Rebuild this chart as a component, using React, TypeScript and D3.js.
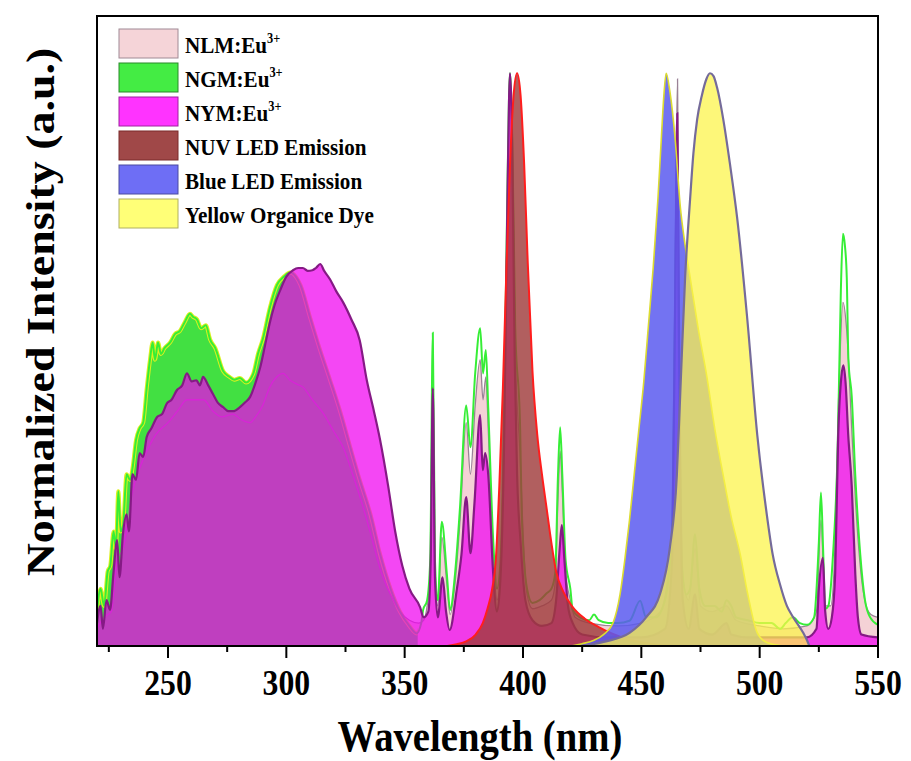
import React from 'react';
import * as d3 from 'd3';

type P = [number, number];

// wavelength (nm), normalized intensity
const NGM: P[] = [
  [220,0.06],[221.5,0.1],[223,0.07],[224.5,0.13],[225.6,0.14],[227,0.2],[228,0.17],[229,0.27],[230,0.2],[231,0.21],
  [232.5,0.3],[234,0.29],[235,0.31],[236.5,0.36],[238,0.38],[239.5,0.39],[241,0.45],[242.4,0.5],[243.5,0.53],[244.5,0.5],
  [245.8,0.53],[247,0.51],[248.5,0.52],[250.9,0.53],[253,0.545],[255,0.55],[257,0.565],[259.3,0.58],[260.5,0.575],[262.3,0.57],
  [264,0.555],[266,0.56],[267.8,0.535],[270,0.52],[273.3,0.48],[276,0.47],[278,0.465],[280.4,0.468],[283,0.46],[286,0.475],
  [288,0.51],[290,0.535],[293,0.59],[296,0.63],[299,0.645],[301.6,0.652],[304,0.645],[306,0.63],[310,0.574],[314,0.52],
  [318.5,0.464],[322.7,0.41],[327,0.347],[331,0.29],[335.4,0.232],[339.6,0.16],[344,0.1],[348,0.06],[352,0.035],[355,0.022],
  [357,0.04],[357.8,0.063],[359.5,0.08],[360.8,0.15],[361.9,0.547],[362.8,0.15],[364,0.08],[365.7,0.217],[367.8,0.127],[369.2,0.063],[371.3,0.127],
  [373.4,0.243],[376,0.42],[377.8,0.347],[379.8,0.476],[381.9,0.555],[383.1,0.476],[384.3,0.517],[385.3,0.417],[387.4,0.185],[389,0.1],
  [390.5,0.15],[392,0.4],[393.5,0.82],[394.5,1.0],[395.5,0.88],[396.7,0.56],[398.8,0.38],[399.5,0.225],[401.7,0.1],[404,0.075],
  [407,0.08],[410,0.092],[412,0.1],[413.6,0.127],[414.8,0.3],[415.7,0.382],[416.6,0.3],[418,0.15],[420,0.1],[421,0.063],
  [424,0.05],[428,0.045],[430,0.055],[432,0.045],[436,0.04],[440,0.04],[445,0.044],[449.5,0.079],[452,0.05],[456,0.05],
  [460,0.08],[463,0.2],[464.3,0.6],[465,0.8],[465.8,0.5],[467,0.15],[469,0.09],[470.6,0.1],[472.7,0.195],[474.5,0.1],
  [477,0.07],[481,0.07],[484,0.06],[486,0.08],[488,0.07],[490,0.05],[495,0.045],[500,0.04],[505,0.04],[508.7,0.03],
  [511,0.04],[514,0.05],[517,0.04],[520,0.037],[523,0.05],[525,0.18],[525.9,0.268],[526.8,0.17],[527.7,0.065],[529,0.07],
  [531,0.16],[533,0.35],[534.3,0.62],[535.2,0.72],[536,0.7],[536.8,0.644],[537.5,0.5],[538.9,0.436],[540.4,0.298],[542.5,0.16],
  [544.5,0.08],[546.7,0.05],[550,0.037],
];

const NYM: P[] = [
  [220,0.04],[221.5,0.07],[222.5,0.03],[224,0.08],[225.5,0.063],[227,0.13],[228.5,0.185],[229.5,0.12],[231,0.197],[232.5,0.23],
  [233.5,0.2],[235,0.3],[236.5,0.29],[238,0.337],[239.5,0.33],[241,0.365],[243,0.38],[245.4,0.4],[247.5,0.405],[249.6,0.424],
  [251.5,0.43],[253.8,0.447],[256,0.455],[258,0.476],[260,0.462],[262,0.464],[263.5,0.455],[264.8,0.47],[267,0.455],[269,0.44],
  [271,0.425],[273.3,0.417],[275.5,0.41],[277.5,0.41],[280.4,0.417],[282.5,0.425],[284.7,0.435],[287,0.46],[289,0.487],[291,0.525],
  [293,0.564],[295,0.595],[297.3,0.62],[300,0.645],[302.8,0.656],[305,0.66],[307,0.66],[309,0.655],[311,0.656],[312.5,0.66],
  [314.3,0.667],[316,0.655],[318.5,0.64],[321,0.62],[324,0.6],[327.5,0.57],[331,0.534],[334,0.464],[337,0.41],[339.6,0.36],
  [343,0.28],[346,0.2],[349,0.14],[352,0.1],[356.5,0.068],[358,0.05],[360,0.06],[361,0.15],[361.9,0.45],[362.8,0.12],
  [364,0.05],[366,0.12],[367.5,0.06],[369,0.028],[372,0.098],[374,0.16],[376,0.26],[377.8,0.162],[379.5,0.25],[381.9,0.403],
  [383,0.307],[384,0.337],[385.3,0.3],[387.4,0.127],[389,0.06],[390.5,0.12],[392,0.35],[393.5,0.8],[394.5,1.0],[395.5,0.85],
  [396.5,0.5],[397.5,0.3],[399,0.18],[401,0.08],[404,0.045],[408,0.035],[412,0.04],[414,0.08],[415.5,0.17],[416.4,0.211],
  [417.5,0.15],[419,0.07],[421,0.04],[425,0.02],[435,0.015],[450,0.015],[460,0.03],[463,0.15],[464.5,0.7],[465.2,0.93],
  [466,0.5],[467.5,0.08],[470,0.03],[472.7,0.09],[474.5,0.03],[480,0.02],[486,0.04],[488,0.02],[495,0.015],[510,0.015],
  [520,0.015],[524,0.03],[525,0.1],[526.7,0.154],[527.7,0.06],[529,0.03],[530.5,0.05],[531.9,0.126],[533.2,0.37],[534.5,0.47],
  [535.4,0.49],[536.3,0.46],[537.4,0.37],[538.9,0.28],[540.4,0.126],[541.5,0.05],[543,0.02],[550,0.015],
];

const NLM: P[] = [
  [220,0.03],[223,0.05],[226,0.06],[228.5,0.15],[231,0.17],[235,0.27],[238,0.31],[241,0.34],[245,0.37],[250,0.39],
  [254,0.41],[258,0.43],[262,0.43],[265,0.43],[269,0.41],[273,0.4],[277.5,0.405],[281,0.395],[284.7,0.39],[287,0.4],
  [290,0.42],[293,0.452],[296,0.47],[298.6,0.476],[301.6,0.464],[304,0.458],[307,0.452],[311,0.43],[315.5,0.407],[320,0.375],
  [324,0.347],[328,0.3],[332.4,0.243],[336,0.19],[340,0.13],[344,0.09],[348,0.06],[352,0.045],[356,0.04],[358,0.045],
  [359.5,0.07],[360.8,0.13],[361.9,0.5],[362.8,0.13],[364,0.07],[365.7,0.19],[367.8,0.11],[369.2,0.055],[371.3,0.11],[373.4,0.22],
  [376,0.39],[377.8,0.3],[379.8,0.42],[381.9,0.5],[383.1,0.43],[384.3,0.47],[385.3,0.38],[387.4,0.16],[389,0.08],[390.5,0.13],
  [392,0.38],[393.5,0.8],[394.5,0.98],[395.5,0.86],[396.7,0.52],[398.8,0.33],[400,0.2],[401.7,0.09],[404,0.065],[408,0.07],
  [412,0.08],[413.6,0.11],[414.8,0.26],[415.7,0.34],[416.6,0.27],[418,0.13],[420,0.08],[422,0.05],[428,0.04],[440,0.035],
  [450,0.04],[458,0.06],[463,0.2],[464.5,0.75],[465.3,0.99],[466,0.55],[467.5,0.12],[470,0.08],[472.7,0.17],[475,0.07],
  [480,0.06],[486,0.07],[490,0.045],[500,0.035],[510,0.03],[520,0.035],[524,0.06],[525.9,0.22],[527.7,0.07],[530,0.07],
  [531.5,0.14],[533.5,0.45],[535.2,0.6],[536.8,0.55],[538.9,0.38],[540.4,0.26],[542.5,0.14],[545,0.07],[547,0.055],[550,0.05],
];

const NUV: P[] = [
  [368,0],[372,0.003],[376,0.008],[380,0.02],[383,0.04],[385,0.065],[387,0.1],[388.5,0.15],[390,0.28],[391.5,0.45],
  [393,0.66],[394.5,0.84],[396,0.96],[397.5,1.0],[399,0.96],[400.5,0.84],[402,0.67],[404,0.48],[406,0.37],[408,0.3],
  [410,0.24],[412,0.18],[414,0.13],[417,0.095],[421,0.068],[426,0.048],[432,0.033],[438,0.021],[445,0.011],[452,0.005],
  [460,0.001],[470,0],
];

const BLUE: P[] = [
  [420,0],[425,0.004],[430,0.01],[434,0.02],[438,0.04],[441,0.09],[443,0.15],[445,0.22],[447,0.3],[449,0.38],
  [451,0.46],[453,0.56],[455,0.66],[457,0.78],[458.5,0.89],[459.5,0.96],[460.5,1.0],[462,0.97],[464.3,0.885],[466.4,0.77],
  [468.5,0.7],[470.6,0.644],[474,0.555],[477.7,0.47],[481,0.38],[484.6,0.298],[488,0.225],[491.8,0.16],[495,0.09],[499,0.023],
  [503,0.006],[510,0],
];

const DYE: P[] = [
  [425,0],[435,0.008],[445,0.023],[452,0.05],[458,0.092],[462,0.17],[465,0.298],[466.4,0.436],[468.5,0.644],[470.6,0.78],
  [472,0.86],[473.6,0.92],[475.5,0.96],[477.5,0.99],[479,1.0],[480.5,0.995],[482,0.975],[484.6,0.92],[487.5,0.84],[490.5,0.747],
  [494.7,0.574],[499,0.368],[503,0.23],[505.5,0.16],[508.7,0.106],[511.5,0.07],[514.2,0.05],[518.4,0.023],[520,0.01],[521,0],
];

const X_TICKS = [250, 300, 350, 400, 450, 500, 550];
const X_MINOR = [225, 275, 325, 375, 425, 475, 525];

const LEGEND_MAIN = ['NLM:Eu', 'NGM:Eu', 'NYM:Eu', 'NUV LED Emission', 'Blue LED Emission', 'Yellow Organice Dye'];
const LEGEND_SUP = ['3+', '3+', '3+', '', '', ''];
const LEGEND_FILL = ['#f5d4d8', '#44ec44', '#ff33ff', '#a04848', '#6e6ef5', '#ffff77'];
const LEGEND_EDGE = ['#a08a95', '#2a8a2a', '#a020a0', '#7a2a2a', '#4a4aa0', '#b0b060'];

const FONT = '"Liberation Serif", "Times New Roman", Times, serif';

export default function App() {
  const W = 911, H = 761;
  const L = 97, R = 878, T = 16, B = 646;
  const x = d3.scaleLinear().domain([220, 550]).range([L, R]);
  const y = d3.scaleLinear().domain([0, 1.1]).range([B, T]);
  const area = d3.area<P>().x(d => x(d[0])).y0(y(0)).y1(d => y(d[1])).curve(d3.curveMonotoneX);
  const line = d3.line<P>().x(d => x(d[0])).y(d => y(d[1])).curve(d3.curveMonotoneX);

  return (
    <svg width={W} height={H} style={{ position: 'absolute', left: 0, top: 0, display: 'block', background: '#fff' }}>
      <defs>
        <clipPath id="plotClip"><rect x={L} y={T} width={R - L} height={B - T} /></clipPath>
        <clipPath id="humpClip"><rect x={L} y={T} width={x(355.5) - L} height={B - T} /></clipPath>
      </defs>
      <rect x={0} y={0} width={W} height={H} fill="#fff" />
      <g clipPath="url(#plotClip)">
        {/* NLM fill (bottom) */}
        <path d={area(NLM) || ''} fill="#f4d2d6" />
        {/* NGM fill (excitation band) */}
        <path d={area(NGM) || ''} fill="#42e042" clipPath="url(#humpClip)" />
        <path d={line(NGM) || ''} fill="none" stroke="#dcf020" strokeWidth={4} clipPath="url(#humpClip)" />
        <path d={line(NLM) || ''} fill="none" stroke="#9a8296" strokeWidth={1.3} />
        <path d={line(NGM) || ''} fill="none" stroke="#36ee36" strokeWidth={2} />
        {/* NYM */}
        <path d={area(NYM) || ''} fill="#f000f0" fillOpacity={0.72} />
        <path d={line(NYM) || ''} fill="none" stroke="#851a85" strokeWidth={2.2} />
        {/* NUV LED */}
        <path d={area(NUV) || ''} fill="#a03c3c" fillOpacity={0.82} />
        <path d={line(NUV) || ''} fill="none" stroke="#ff1e1e" strokeWidth={2} />
        {/* Blue LED */}
        <path d={area(BLUE) || ''} fill="#5a5af0" fillOpacity={0.85} />
        <path d={line(BLUE) || ''} fill="none" stroke="#dcdc30" strokeWidth={1.6} />
        {/* Yellow dye */}
        <path d={area(DYE) || ''} fill="#fcf44a" fillOpacity={0.74} />
        <path d={line(DYE) || ''} fill="none" stroke="#756b9a" strokeWidth={2.2} />
      </g>
      {/* frame */}
      <rect x={L} y={T} width={R - L} height={B - T} fill="none" stroke="#000" strokeWidth={2} />
      {/* ticks */}
      {X_TICKS.map(t => (
        <line key={'M' + t} x1={x(t)} x2={x(t)} y1={B} y2={B + 12} stroke="#000" strokeWidth={2} />
      ))}
      {X_MINOR.map(t => (
        <line key={'m' + t} x1={x(t)} x2={x(t)} y1={B} y2={B + 6} stroke="#000" strokeWidth={2} />
      ))}
      {X_TICKS.map(t => (
        <g key={'l' + t} transform={`translate(${x(t)},695) scale(0.88,1)`}>
          <text textAnchor="middle" fontFamily={FONT} fontWeight="bold" fontSize={36} fill="#000">{t}</text>
        </g>
      ))}
      {/* axis titles */}
      <g transform="translate(480,751) scale(0.86,1)">
        <text textAnchor="middle" fontFamily={FONT} fontWeight="bold" fontSize={45} fill="#000">Wavelength (nm)</text>
      </g>
      <g transform="translate(54,312) rotate(-90) scale(1,0.85)">
        <text textAnchor="middle" fontFamily={FONT} fontWeight="bold" fontSize={46} fill="#000">Normalized Intensity (a.u.)</text>
      </g>
      {/* legend */}
      {LEGEND_MAIN.map((name, i) => (
        <g key={name}>
          <rect x={119} y={29 + 34 * i} width={59} height={29} fill={LEGEND_FILL[i]} stroke={LEGEND_EDGE[i]} strokeWidth={1} />
          <g transform={`translate(185,${52.5 + 34 * i}) scale(0.88,1)`}>
            <text fontFamily={FONT} fontWeight="bold" fontSize={24} fill="#000">
              <tspan>{name}</tspan>
              {LEGEND_SUP[i] ? <tspan dy={-10} fontSize={14}>{LEGEND_SUP[i]}</tspan> : null}
            </text>
          </g>
        </g>
      ))}
    </svg>
  );
}
